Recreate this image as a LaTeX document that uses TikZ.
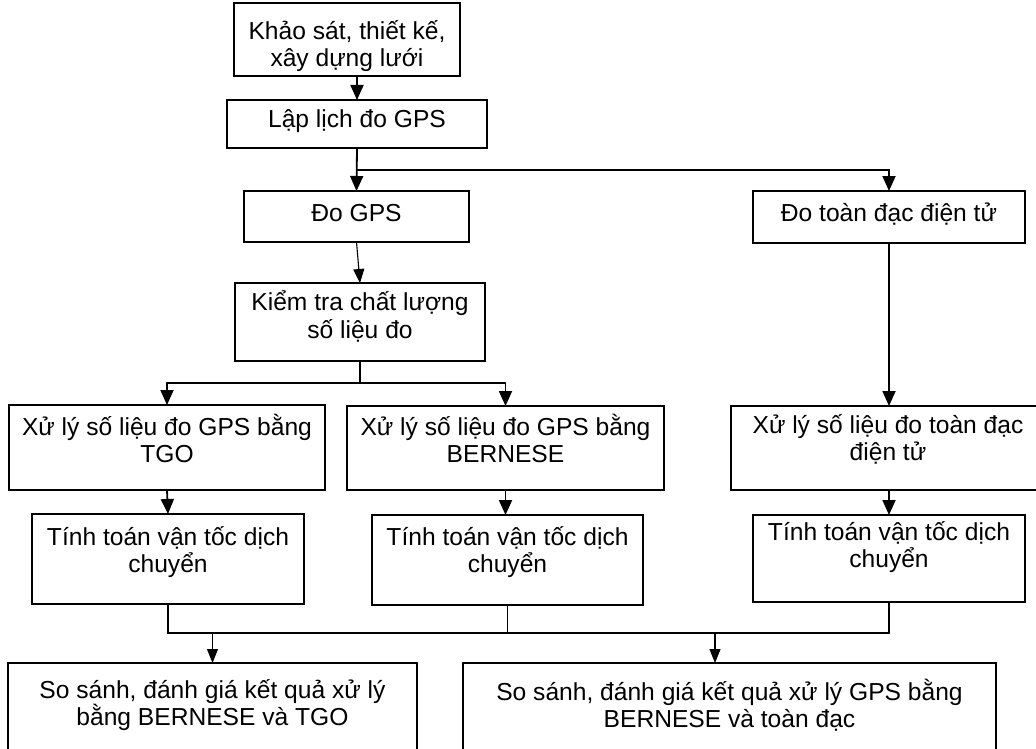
\documentclass[tikz,border=0pt]{standalone}
\usepackage{fontspec}
\setmainfont{Liberation Sans}
\usetikzlibrary{arrows.meta, calc}

% box text: width, height, top gap, text
\newcommand{\boxtext}[4]{\parbox[c][#2pt][t]{#1pt}{\centering
  \lineskiplimit=-\maxdimen\vspace*{#3pt}\strut #4}}

\tikzset{
  stepbox/.style = {draw, line width=1.8pt, inner sep=0pt, outer sep=0pt,
                    font=\fontsize{24.6}{27.5}\selectfont},
  arr/.style     = {-{Triangle[length=15pt, width=13pt]}, line width=1.8pt},
  thinarr/.style = {-{Triangle[length=14pt, width=11pt]}, line width=1.1pt},
  link/.style    = {line width=1.1pt}
}

\begin{document}
\begin{tikzpicture}[x=1pt, y=-1pt]
\path[use as bounding box, fill=white] (0,0) rectangle (1036,749);

% upper part
\node[stepbox] (survey) at (347,39.5)  {\boxtext{226}{73}{17}{Khảo sát, thiết kế,\\ xây dựng lưới}};
\node[stepbox] (plan)   at (357,124)   {\boxtext{260}{48}{8}{Lập lịch đo GPS}};
\node[stepbox] (gps)    at (356.5,216.5) {\boxtext{225}{51}{11}{Đo GPS}};
\node[stepbox] (tdd)    at (889,217)   {\boxtext{272}{52}{11}{Đo toàn đạc điện tử}};
\node[stepbox] (check)  at (360,322)   {\boxtext{250}{78}{8}{Kiểm tra chất lượng\\ số liệu đo}};

% processing
\node[stepbox] (tgo)  at (167,447.5) {\boxtext{316}{85}{9}{Xử lý số liệu đo GPS bằng\\ TGO}};
\node[stepbox] (bern) at (505.5,448) {\boxtext{317}{84}{8}{Xử lý số liệu đo GPS bằng\\ BERNESE}};
\node[stepbox] (ts)   at (888,448)   {\boxtext{314}{84}{8}{Xử lý số liệu đo toàn đạc\\ điện tử}};

% velocities
\node[stepbox] (vt1) at (168,559)   {\boxtext{272}{90}{12}{Tính toán vận tốc dịch\\ chuyển}};
\node[stepbox] (vt2) at (507.5,560) {\boxtext{271}{90}{11}{Tính toán vận tốc dịch\\ chuyển}};
\node[stepbox] (vt3) at (889,558.5) {\boxtext{272}{87}{6}{Tính toán vận tốc dịch\\ chuyển}};

% comparisons
\node[stepbox] (cmp1) at (212.5,721.5) {\boxtext{409}{117}{16}{So sánh, đánh giá kết quả xử lý\\ bằng BERNESE và TGO}};
\node[stepbox] (cmp2) at (729.5,721.5) {\boxtext{533}{117}{16}{So sánh, đánh giá kết quả xử lý GPS bằng\\ BERNESE và toàn đạc}};
\coordinate (in2) at (715,663);

% connectors
\draw[arr] (survey.south -| plan.north) -- (plan.north);
\draw[arr] (plan.south) -- (gps.north);
\draw[arr] (plan.south) ++(0,22) -| (tdd.north);
\draw[thinarr] (gps.south) -- (check.north);
\draw[arr] (check.south) -- ++(0,22) coordinate (c2) -| (tgo.north);
\draw[arr] (c2) -| (bern.north);
\draw[arr] (tdd.south) -- (tdd.south |- ts.north);
\draw[arr] (tgo.south) -- (vt1.north);
\draw[arr] (bern.south) -- (bern.south |- vt2.north);
\draw[arr] (ts.south -| vt3.north) -- (vt3.north);

\draw[link] (vt1.south) -- ++(0,29) coordinate (j1) -- (j1 -| vt3.south) -- (vt3.south);
\draw[link] (vt2.south) -- (vt2.south |- j1);
\draw[thinarr] (j1 -| cmp1.north) -- (cmp1.north);
\draw[thinarr] (j1 -| in2) -- (in2);
\end{tikzpicture}
\end{document}
